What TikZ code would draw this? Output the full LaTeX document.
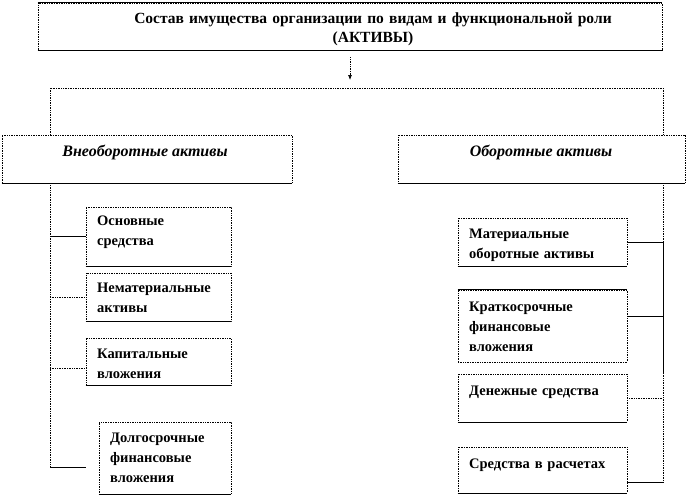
\documentclass[tikz,border=0pt]{standalone}
\usepackage{fontspec}
\setmainfont{Liberation Serif}
\usetikzlibrary{arrows.meta}
\begin{document}
\begin{tikzpicture}[x=1pt,y=-1pt,
  box/.style={draw, densely dotted, line width=0.7pt, inner sep=0pt},
  bl/.style={line width=0.8pt},
  dl/.style={densely dotted, line width=0.7pt},
  sl/.style={line width=0.6pt},
  txt/.style={anchor=base west, inner sep=0pt, text width=160pt, align=left,
     font=\fontsize{14.5}{20}\selectfont\bfseries},
  cat/.style={inner sep=0pt, font=\fontsize{16}{18}\selectfont\bfseries\itshape}
]
\useasboundingbox (0,0) rectangle (690,496);
% title box
\node[box, minimum width=624pt, minimum height=47pt] (top) at (350,26.5) {};
\draw[bl] (top.north west) -- (top.north east);
\draw[bl] (top.south west) -- (top.south east);
\node[inner sep=0pt, align=center, text width=560pt, font=\fontsize{15.5}{19}\selectfont\bfseries, anchor=base] (title) at (373,23)
  {Состав имущества организации по видам и функциональной роли\\(АКТИВЫ)};
\coordinate (arrend) at (350,80);
\draw[dl, shorten <=7pt, -{Latex[length=5pt,width=4pt]}] (top.south) -- (arrend);
% category boxes
\node[box, minimum width=290pt, minimum height=48pt] (vna) at (147,159) {};
\draw[bl] (vna.south west) -- (vna.south east);
\node[cat] (vnat) at (145,152) {Внеоборотные активы};
\node[box, minimum width=287pt, minimum height=48pt] (oa) at (541.5,159) {};
\draw[bl] (oa.south west) -- (oa.south east);
\node[cat] (oat) at (541,152) {Оборотные активы};
% frame
\coordinate (lt) at (50,88);
\coordinate (rt) at (663,88);
\draw[dl] (vna.north -| lt) -- (lt) -- (rt) -- (oa.north -| rt);
% left children
\node[box, minimum width=145pt, minimum height=59pt] (os) at (158.5,236.5) {};
\draw[bl] (os.south west) -- (os.south east);
\node[txt] (ost) at (97,225) {Основные\\средства};
\node[box, minimum width=145pt, minimum height=48pt] (nem) at (158.5,297) {};
\draw[bl] (nem.south west) -- (nem.south east);
\node[txt] (nemt) at (97,292) {Нематериальные\\активы};
\node[box, minimum width=145pt, minimum height=47pt] (kap) at (158.5,361.5) {};
\draw[bl] (kap.south west) -- (kap.south east);
\node[txt] (kapt) at (97,358) {Капитальные\\вложения};
\node[box, minimum width=132pt, minimum height=72pt] (dol) at (165,458) {};
\draw[bl] (dol.south west) -- (dol.south east);
\node[txt] (dolt) at (110,442) {Долгосрочные\\финансовые\\вложения};
\coordinate (lb) at (50,467);
\coordinate (dolc) at (86,467);
\draw[dl] (vna.south -| lt) -- (lb);
\draw[sl] (os.west -| lt) -- (os.west);
\draw[dl] (nem.west -| lt) -- (nem.west);
\draw[dl] (lt |- 0,368) -- (kap.west |- 0,368);
\draw[sl] (lb) -- (dolc);
% right children
\node[box, minimum width=169pt, minimum height=48pt] (mat) at (542.5,242) {};
\draw[bl] (mat.south west) -- (mat.south east);
\node[txt] (matt) at (469,238) {Материальные\\оборотные активы};
\node[box, minimum width=169pt, minimum height=72pt] (kr) at (542.5,326) {};
\draw[bl] (kr.north west) -- (kr.north east);
\node[txt] (krt) at (469,311) {Краткосрочные\\финансовые\\вложения};
\node[box, minimum width=169pt, minimum height=48pt] (den) at (542.5,398) {};
\draw[bl] (den.south west) -- (den.south east);
\node[txt] (dent) at (469,395) {Денежные средства};
\node[box, minimum width=169pt, minimum height=46pt] (sr) at (542.5,470) {};
\draw[bl] (sr.south west) -- (sr.south east);
\node[txt] (srt) at (469,468) {Средства в расчетах};
\coordinate (r1) at (663,242);
\coordinate (r2) at (663,373);
\coordinate (rb) at (663,482);
\draw[dl] (oa.south -| rt) -- (r1);
\draw[sl] (r1) -- (r2);
\draw[dl] (r2) -- (rb);
\draw[sl] (mat.east) -- (r1);
\draw[sl] (kr.east |- 0,316) -- (rt |- 0,316);
\draw[dl] (den.east) -- (den.east -| rt);
\draw[sl] (sr.east |- rb) -- (rb);
\end{tikzpicture}
\end{document}
